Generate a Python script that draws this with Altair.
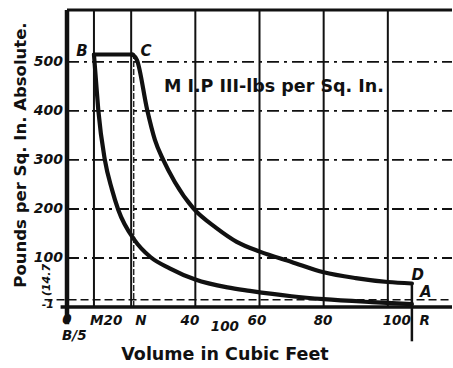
import altair as alt
import pandas as pd

# ---- data ----
# compression curve B -> A (volume cu ft, pressure lb/sq in abs)
inner_v = [8.4, 8.95, 9.75, 11.8, 14, 16, 21, 26, 32, 40, 50, 57, 70, 80, 95, 107.5]
inner_p = [515, 469, 402, 300, 240, 198, 137, 102, 79, 56, 40, 33, 22, 16, 10, 6]
# admission B -> C
bc_v = [8.4, 20.5]
bc_p = [515, 515]
# expansion curve C -> D
outer_v = [20.5, 21.8, 25, 27.4, 30, 33.6, 39.4, 46.6, 52.9, 60.1, 70, 80, 90, 100, 107.5]
outer_p = [515, 504, 402, 341, 300, 255, 201, 161, 133, 113, 92, 71, 59, 51, 48]

grid_x = [8.4, 20, 40, 60, 80, 100]
grid_y = [100, 200, 300, 400, 500]
atm = 14.7

ytick_vals = [500, 400, 300, 200, 100]
ytick_text = ["500", "400", "300", "200", "100"]

xlab_text = ["0", "M", "20", "N", "40", "100", "60", "80", "100", "R", "B/5"]
xlab_v = [0, 9.3, 14.3, 23, 38.3, 49.2, 59.2, 79.8, 102.8, 111.5, 2.3]
xlab_p = [-26, -28, -28, -28, -28, -40, -28, -28, -28, -28, -60]

pt_text = ["B", "C", "D", "A"]
pt_v = [4.7, 24.6, 109.3, 111.8]
pt_p = [522, 522, 65, 30]

XMAX, YMAX = 120, 606
xs = alt.Scale(domain=[0, XMAX], nice=False, zero=False)
ys = alt.Scale(domain=[0, YMAX], nice=False, zero=False)
INK = "#111111"

X = lambda f: alt.X(f, type="quantitative", scale=xs, axis=None)
Y = lambda f: alt.Y(f, type="quantitative", scale=ys, axis=None)

vgrid = alt.Chart(pd.DataFrame({"v": grid_x, "a": 0, "b": YMAX})).mark_rule(
    color=INK, strokeWidth=2).encode(x=X("v"), y=Y("a"), y2="b")

cline = alt.Chart(pd.DataFrame({"v": [bc_v[1] + 0.3], "a": [0], "b": [bc_p[1]]})).mark_rule(
    color=INK, strokeWidth=1.3, strokeDash=[6, 2]).encode(x=X("v"), y=Y("a"), y2="b")

hgrid = alt.Chart(pd.DataFrame({"p": grid_y, "a": 0, "b": XMAX})).mark_rule(
    color=INK, strokeWidth=1.8, strokeDash=[12, 5, 3, 5]).encode(y=Y("p"), x=X("a"), x2="b")

atm_line = alt.Chart(pd.DataFrame({"p": [atm], "a": [-7], "b": [XMAX]})).mark_rule(
    color=INK, strokeWidth=1.5, strokeDash=[8, 4]).encode(y=Y("p"), x=X("a"), x2="b")

left = alt.Chart(pd.DataFrame({"v": [0], "a": [-35], "b": [YMAX]})).mark_rule(
    color=INK, strokeWidth=4.5).encode(x=X("v"), y=Y("a"), y2="b")
top = alt.Chart(pd.DataFrame({"p": [YMAX], "a": [0], "b": [XMAX]})).mark_rule(
    color=INK, strokeWidth=3).encode(y=Y("p"), x=X("a"), x2="b")
bottom = alt.Chart(pd.DataFrame({"p": [0], "a": [-2], "b": [XMAX]})).mark_rule(
    color=INK, strokeWidth=3.5).encode(y=Y("p"), x=X("a"), x2="b")

rline = alt.Chart(pd.DataFrame({"v": [inner_v[-1]], "a": [-70], "b": [outer_p[-1]]})).mark_rule(
    color=INK, strokeWidth=2.5).encode(x=X("v"), y=Y("a"), y2="b")

inner = alt.Chart(pd.DataFrame({"v": inner_v, "p": inner_p})).mark_line(
    color=INK, strokeWidth=4.2, interpolate="monotone", strokeCap="round").encode(x=X("v"), y=Y("p"))
outer = alt.Chart(pd.DataFrame({"v": outer_v, "p": outer_p})).mark_line(
    color=INK, strokeWidth=4.2, interpolate="monotone", strokeCap="round").encode(x=X("v"), y=Y("p"))
bc = alt.Chart(pd.DataFrame({"v": bc_v, "p": bc_p})).mark_line(
    color=INK, strokeWidth=4, strokeCap="round").encode(x=X("v"), y=Y("p"))

font = "DejaVu Sans"
ylabels = alt.Chart(pd.DataFrame({"p": ytick_vals, "t": ytick_text, "v": 0})).mark_text(
    align="right", baseline="middle", dx=-4, font=font, fontSize=14, fontStyle="italic",
    fontWeight="bold", color=INK).encode(x=X("v"), y=Y("p"), text="t:N")

atm_label = alt.Chart(pd.DataFrame({"p": [55], "v": [-6.2], "t": ["(14.7"]})).mark_text(
    angle=270, align="center", baseline="middle", font=font, fontSize=11,
    fontStyle="italic", fontWeight="bold", color=INK).encode(x=X("v"), y=Y("p"), text="t:N")
one_label = alt.Chart(pd.DataFrame({"p": [4], "v": [0], "t": ["-1"]})).mark_text(
    align="right", baseline="middle", dx=-13, font=font, fontSize=11,
    fontStyle="italic", fontWeight="bold", color=INK).encode(x=X("v"), y=Y("p"), text="t:N")

xlabels = alt.Chart(pd.DataFrame({"v": xlab_v, "p": xlab_p, "t": xlab_text})).mark_text(
    align="center", baseline="middle", font=font, fontSize=13.5, fontStyle="italic",
    fontWeight="bold", color=INK).encode(x=X("v"), y=Y("p"), text="t:N")

ptlabels = alt.Chart(pd.DataFrame({"v": pt_v, "p": pt_p, "t": pt_text})).mark_text(
    align="center", baseline="middle", font=font, fontSize=15, fontStyle="italic",
    fontWeight="bold", color=INK).encode(x=X("v"), y=Y("p"), text="t:N")

mip = alt.Chart(pd.DataFrame({"v": [64.5], "p": [449], "t": ["M I.P III-lbs per Sq. In."]})).mark_text(
    align="center", baseline="middle", font=font, fontSize=17.5,
    fontWeight="bold", color=INK).encode(x=X("v"), y=Y("p"), text="t:N")

xtitle = alt.Chart(pd.DataFrame({"t": ["Volume in Cubic Feet"]})).mark_text(
    align="center", baseline="middle", font=font, fontSize=17.5, fontWeight="bold", color=INK
).encode(x=alt.value(158), y=alt.value(345), text="t:N")

ytitle = alt.Chart(pd.DataFrame({"t": ["Pounds per Sq. In. Absolute."]})).mark_text(
    align="center", baseline="middle", angle=270, font=font, fontSize=16.5, fontWeight="bold",
    color=INK).encode(x=alt.value(-46), y=alt.value(145), text="t:N")

chart = alt.layer(
    vgrid, cline, hgrid, atm_line, inner, outer, bc, left, top, bottom, rline,
    ylabels, atm_label, one_label, xlabels, ptlabels, mip, xtitle, ytitle
).properties(
    width=385, height=297,
    padding={"left": 67, "top": 10, "right": 1, "bottom": 61},
    autosize=alt.AutoSizeParams(type="none"),
    background="white",
).configure_view(stroke=None)

chart.save("out.html", embed_options={"renderer": "svg", "actions": False})
